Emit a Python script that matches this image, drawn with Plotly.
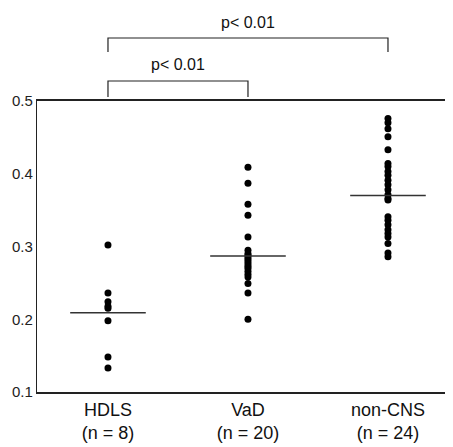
import plotly.graph_objects as go

categories = ["HDLS", "VaD", "non-CNS"]
counts = [8, 20, 24]
hdls = [0.302, 0.236, 0.224, 0.218, 0.215, 0.198, 0.148, 0.133]
vad = [0.409, 0.387, 0.358, 0.343, 0.313, 0.295, 0.290, 0.288, 0.285, 0.282,
       0.279, 0.276, 0.273, 0.270, 0.266, 0.262, 0.258, 0.249, 0.236, 0.200]
noncns = [0.476, 0.470, 0.462, 0.451, 0.433, 0.414, 0.410, 0.403, 0.398, 0.391,
          0.385, 0.378, 0.371, 0.366, 0.364, 0.341, 0.336, 0.330, 0.323, 0.318,
          0.313, 0.304, 0.291, 0.286]
means = [0.209, 0.287, 0.370]
y_ticks = [0.1, 0.2, 0.3, 0.4, 0.5]
comparisons = [(0, 1, "p< 0.01"), (0, 2, "p< 0.01")]

groups = [hdls, vad, noncns]
XMIN, XMAX = -0.507, 2.443

fig = go.Figure()
for i, vals in enumerate(groups):
    fig.add_trace(go.Scatter(
        x=[i] * len(vals), y=vals, mode="markers",
        marker=dict(color="black", size=7),
        showlegend=False, hoverinfo="y"))
    fig.add_trace(go.Scatter(
        x=[i - 0.27, i + 0.27], y=[means[i], means[i]], mode="lines",
        line=dict(color="#333333", width=1.5),
        showlegend=False, hoverinfo="skip"))

def px(c):
    return (c - XMIN) / (XMAX - XMIN)

# brackets (paper coords): lower and upper -> (bottom of legs, bar, text centre)
levels = [(1.0137, 1.0687, 1.1254), (1.168, 1.2165, 1.2698)]
shapes = []
annotations = []
for (a, b, txt), (ybot, ytop, ytxt) in zip(comparisons, levels):
    xa, xb = px(a), px(b)
    shapes.append(dict(type="path", xref="paper", yref="paper",
                       path=f"M {xa},{ybot} L {xa},{ytop} L {xb},{ytop} L {xb},{ybot}",
                       line=dict(color="#222222", width=1.2)))
    annotations.append(dict(xref="paper", yref="paper", x=(xa + xb) / 2, y=ytxt,
                            text=txt, showarrow=False, yanchor="middle",
                            font=dict(size=16, color="#111111")))

fig.update_layout(
    width=445, height=439,
    margin=dict(l=29, r=3, t=93, b=55),
    paper_bgcolor="white", plot_bgcolor="white",
    font=dict(family="Liberation Sans, Arial, sans-serif", color="black"),
    shapes=shapes, annotations=annotations,
    xaxis=dict(range=[XMIN, XMAX], tickvals=[0, 1, 2],
               ticktext=[f"{c}<br>(n = {n})" for c, n in zip(categories, counts)],
               showgrid=False, zeroline=False, showline=True, mirror=True,
               linecolor="#222222", linewidth=2, ticks="",
               tickfont=dict(size=18, color="#111111")),
    yaxis=dict(range=[0.1, 0.5], tickvals=y_ticks,
               ticktext=[f"{v:.1f}" for v in y_ticks],
               showgrid=False, zeroline=False, showline=True,
               linecolor="#222222", linewidth=1.2, ticks="",
               tickfont=dict(size=15, color="#222222")),
)

fig.write_html("out.html")
